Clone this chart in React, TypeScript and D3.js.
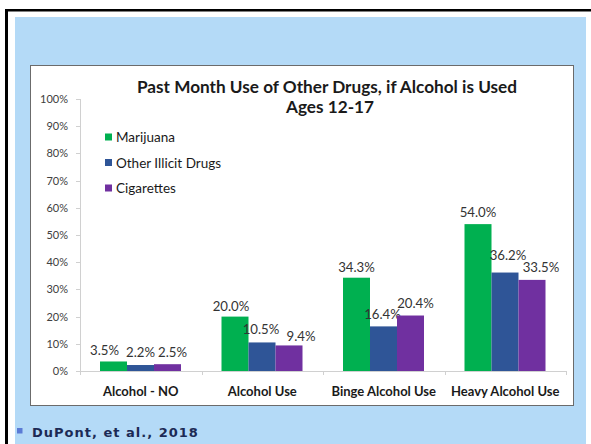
import React from "react";
import * as d3 from "d3";

const categories = ["Alcohol - NO", "Alcohol Use", "Binge Alcohol Use", "Heavy Alcohol Use"];
const seriesNames = ["Marijuana", "Other Illicit Drugs", "Cigarettes"];
const marijuana = [3.5, 20.0, 34.3, 54.0];
const otherIllicit = [2.2, 10.5, 16.4, 36.2];
const cigarettes = [2.5, 9.4, 20.4, 33.5];
const yTicks = [0, 10, 20, 30, 40, 50, 60, 70, 80, 90, 100];

const colors = ["#00B050", "#2F5597", "#7030A0"];
// label nudges (px) [series][category] to mimic hand-placed Excel labels
const labelDx = [
  [-9, -4, 0, 0],
  [0, -1, -1, 3],
  [5, 12, 5, 9],
];
const labelDy = [
  [0, 0, 0, -1],
  [-2, -2, -1, -7],
  [-1, 2, -2, -2],
];

export default function App() {
  const W = 591, H = 444;
  const plot = { left: 80, right: 566, top: 99, bottom: 371 };
  const catX = d3.scaleBand<string>().domain(categories).range([plot.left, plot.right]);
  const catW = catX.bandwidth();
  const inner = d3.scaleBand<string>().domain(seriesNames).range([0, catW * (81 / 121.5)]);
  const groupOffset = catW * (20 / 121.5);
  const y = d3.scaleLinear().domain([0, 100]).range([plot.bottom, plot.top]);
  const data = [marijuana, otherIllicit, cigarettes];

  const font = "Lato, 'Open Sans', 'Liberation Sans', sans-serif";

  return (
    <div style={{ position: "fixed", left: 0, top: 0 }}>
      <svg width={W} height={H} style={{ display: "block" }}>
        <rect x={0} y={0} width={W} height={H} fill="#fff" />
        <rect x={5} y={9} width={W - 5} height={2.5} fill="#000" />
        <rect x={5} y={9} width={3} height={H - 9} fill="#000" />
        <rect x={15} y={17} width={571} height={H - 17} fill="#B4DAF7" />
        <rect x={30.5} y={65.5} width={543} height={340} fill="#fff" stroke="#6b6b6b" strokeWidth={1} />

        <text x={327} y={92.5} textAnchor="middle" fontFamily={font} fontWeight={700} fontSize={17.2} fill="#1a1a1a">
          Past Month Use of Other Drugs, if Alcohol is Used
        </text>
        <text x={330} y={113} textAnchor="middle" fontFamily={font} fontWeight={700} fontSize={17.2} fill="#1a1a1a">
          Ages 12-17
        </text>

        {/* y axis */}
        <line x1={plot.left + 0.5} x2={plot.left + 0.5} y1={plot.top} y2={plot.bottom} stroke="#d0d0d0" />
        {yTicks.map((t) => (
          <g key={t}>
            <line x1={plot.left - 4} x2={plot.left} y1={Math.round(y(t)) + 0.5} y2={Math.round(y(t)) + 0.5} stroke="#d0d0d0" />
            <text x={68} y={y(t) + 4} textAnchor="end" fontFamily={font} fontSize={11} fill="#404040">
              {t}%
            </text>
          </g>
        ))}

        {/* x axis */}
        <line x1={plot.left} x2={plot.right} y1={plot.bottom + 0.5} y2={plot.bottom + 0.5} stroke="#d0d0d0" />
        {[...categories.map((c) => catX(c)!), plot.right].map((xv, i) => (
          <line key={i} x1={Math.round(xv) + 0.5} x2={Math.round(xv) + 0.5} y1={plot.bottom} y2={plot.bottom + 4} stroke="#d0d0d0" />
        ))}
        {categories.map((c) => (
          <text key={c} x={catX(c)! + catW / 2} y={395.5} textAnchor="middle" fontFamily={font} fontWeight={700} fontSize={13} fill="#1a1a1a">
            {c}
          </text>
        ))}

        {/* bars */}
        {data.map((vals, si) =>
          vals.map((v, ci) => {
            const bx = catX(categories[ci])! + groupOffset + inner(seriesNames[si])!;
            const bw = inner.bandwidth();
            return (
              <g key={`${si}-${ci}`}>
                <rect x={bx} y={y(v)} width={bw} height={plot.bottom - y(v)} fill={colors[si]} />
                <text
                  x={bx + bw / 2 + labelDx[si][ci]}
                  y={y(v) - 6 + labelDy[si][ci]}
                  textAnchor="middle"
                  fontFamily={font}
                  fontSize={13.2}
                  fill="#333"
                >
                  {v.toFixed(1)}%
                </text>
              </g>
            );
          })
        )}

        {/* legend */}
        {seriesNames.map((s, i) => (
          <g key={s}>
            <rect x={105} y={133.5 + i * 25.5} width={7} height={7} fill={colors[i]} />
            <text x={116} y={142 + i * 25.5} fontFamily={font} fontSize={13.5} fill="#1a1a1a">
              {s}
            </text>
          </g>
        ))}

        {/* footnote */}
        <rect x={17} y={428} width={5.5} height={5.5} fill="#5B7BD5" />
        <text x={32} y={437} fontFamily="'DejaVu Sans', Verdana, sans-serif" fontWeight={700} fontSize={13} fill="#1C2A55" letterSpacing={1}>
          DuPont, et al., 2018
        </text>
      </svg>
    </div>
  );
}
